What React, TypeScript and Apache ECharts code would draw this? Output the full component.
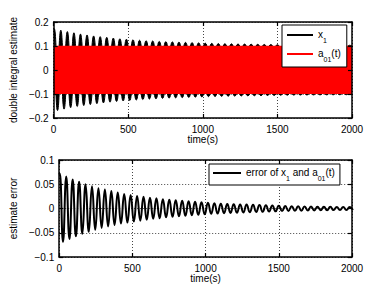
import React, { useEffect, useRef } from 'react';
import * as echarts from 'echarts';

const timeRange = [0, 2000];
const xInterval = 500;
const topYRange = [-0.2, 0.2];
const topYInterval = 0.1;
const botYRange = [-0.1, 0.1];
const botYInterval = 0.05;

// error of x1 and a01(t): value at t=0, then alternating peaks / troughs
const errorStart = 0.07;
const firstPeakTime = 4;
const halfPeriod = 22;
const errorPeaks = [
  0.072, 0.066, 0.06, 0.055, 0.05, 0.046, 0.042, 0.039, 0.036, 0.033, 0.03, 0.028,
  0.026, 0.024, 0.022, 0.021, 0.019, 0.018, 0.017, 0.016, 0.015, 0.014, 0.013, 0.012,
  0.011, 0.01, 0.0095, 0.009, 0.0085, 0.008, 0.0075, 0.007, 0.0065, 0.006, 0.0055, 0.005,
  0.0048, 0.0045, 0.0042, 0.004, 0.0038, 0.0036, 0.0034, 0.0032, 0.003, 0.003,
];
const errorTroughs = [
  -0.069, -0.063, -0.057, -0.052, -0.048, -0.044, -0.04, -0.037, -0.034, -0.031, -0.029, -0.027,
  -0.025, -0.023, -0.021, -0.02, -0.018, -0.017, -0.016, -0.015, -0.014, -0.013, -0.012, -0.011,
  -0.0105, -0.0098, -0.0092, -0.0088, -0.0082, -0.0078, -0.0072, -0.0068, -0.0062, -0.0058, -0.0052, -0.0049,
  -0.0046, -0.0044, -0.0041, -0.0039, -0.0037, -0.0035, -0.0033, -0.0031, -0.003, -0.003,
];
// a01(t): dense oscillation filling a band between these bounds
const a01Bounds = [-0.1, 0.1];

const FONT = 'Liberation Sans, Arial, Helvetica, sans-serif';

const fmtY = (v: number) => {
  if (Math.abs(v) < 1e-9) return '0';
  const s = String(parseFloat(Math.abs(v).toFixed(3)));
  return (v < 0 ? '\u2212' : '') + s;
};

export default function App() {
  const ref = useRef<HTMLDivElement>(null);
  useEffect(() => {
    if (!ref.current) return;
    const chart = echarts.init(ref.current, undefined, { renderer: 'svg' });

    const errPts: number[][] = [[0, errorStart]];
    errorPeaks.forEach((p, k) => {
      errPts.push([firstPeakTime + 2 * k * halfPeriod, p]);
      errPts.push([firstPeakTime + (2 * k + 1) * halfPeriod, errorTroughs[k]]);
    });
    // x1 = a01 + error: its envelope is the error shifted by the a01 bounds
    const x1Upper = errPts.map(([t, v]) => [t, v + a01Bounds[1]]);
    const x1Lower = errPts.map(([t, v]) => [t, v + a01Bounds[0]]);
    const a01Top = timeRange.map((t) => [t, a01Bounds[1]]);

    const grids = [
      { left: 50, top: 22, width: 302, height: 96 },
      { left: 50, top: 160, width: 302, height: 97 },
    ];
    const yRanges = [topYRange, botYRange];
    const yIntervals = [topYInterval, botYInterval];
    const yNames = ['double integral estimate', 'estimate error'];
    const yGaps = [30, 35];
    const xGaps = [16, 15];

    const xAxis: any[] = [];
    const yAxis: any[] = [];
    const lineCol = '#000';
    grids.forEach((_, i) => {
      const xb = { gridIndex: i, type: 'value', min: timeRange[0], max: timeRange[1], interval: xInterval };
      xAxis.push({
        ...xb, position: 'bottom', z: 10,
        axisLine: { show: true, onZero: false, lineStyle: { color: lineCol, width: 1.5 } },
        axisTick: { show: true, inside: true, length: 4, lineStyle: { color: lineCol, width: 1.2 } },
        axisLabel: { show: true, margin: 6, color: '#000', fontSize: 10, fontFamily: FONT, formatter: (v: number) => String(v) },
        splitLine: { show: false },
        name: 'time(s)', nameLocation: 'middle', nameGap: xGaps[i],
        nameTextStyle: { color: '#000', fontSize: 10, fontFamily: FONT },
      });
      xAxis.push({
        ...xb, position: 'top', z: 10,
        axisLine: { show: true, onZero: false, lineStyle: { color: lineCol, width: 1.5 } },
        axisTick: { show: true, inside: true, length: 4, lineStyle: { color: lineCol, width: 1.2 } },
        axisLabel: { show: false }, splitLine: { show: false },
      });
      xAxis.push({
        ...xb, position: 'bottom', z: 0,
        axisLine: { show: false }, axisTick: { show: false }, axisLabel: { show: false },
        splitLine: { show: true, lineStyle: { color: '#444', width: 1, type: [1, 2] } },
      });
      const yb = { gridIndex: i, type: 'value', min: yRanges[i][0], max: yRanges[i][1], interval: yIntervals[i] };
      yAxis.push({
        ...yb, position: 'left', z: 10,
        axisLine: { show: true, onZero: false, lineStyle: { color: lineCol, width: 1.5 } },
        axisTick: { show: true, inside: true, length: 4, lineStyle: { color: lineCol, width: 1.2 } },
        axisLabel: { show: true, margin: 5, color: '#000', fontSize: 10, fontFamily: FONT, formatter: fmtY },
        splitLine: { show: false },
        name: yNames[i], nameLocation: 'middle', nameGap: yGaps[i],
        nameTextStyle: { color: '#000', fontSize: 10, fontFamily: FONT },
      });
      yAxis.push({
        ...yb, position: 'right', z: 10,
        axisLine: { show: true, onZero: false, lineStyle: { color: lineCol, width: 1.5 } },
        axisTick: { show: true, inside: true, length: 4, lineStyle: { color: lineCol, width: 1.2 } },
        axisLabel: { show: false }, splitLine: { show: false },
      });
      yAxis.push({
        ...yb, position: 'left', z: 0,
        axisLine: { show: false }, axisTick: { show: false }, axisLabel: { show: false },
        splitLine: { show: true, lineStyle: { color: '#444', width: 1, type: [1, 2] } },
      });
    });

    const rich = {
      n: { fontSize: 10, fontFamily: FONT, color: '#000', verticalAlign: 'top', lineHeight: 12 },
      s: { fontSize: 7, fontFamily: FONT, color: '#000', verticalAlign: 'top', lineHeight: 8, padding: [8, 0, 0, 0] },
    };
    const legendCommon = {
      orient: 'vertical', icon: 'rect', itemHeight: 2, selectedMode: false,
      borderColor: '#000', borderWidth: 1, backgroundColor: '#fff', borderRadius: 0, z: 20,
      textStyle: { fontSize: 10, fontFamily: FONT, color: '#000', rich },
    };

    const option: any = {
      animation: false,
      backgroundColor: '#fff',
      grid: grids,
      xAxis, yAxis,
      legend: [
        {
          ...legendCommon, left: 282, top: 25, itemGap: 4, itemWidth: 26,
          padding: [4, 6, 4, 5],
          data: ['x1', 'a01'],
          formatter: (name: string) => (name === 'x1' ? '{n|x}{s|1}' : '{n|a}{s|01}{n|(t)}'),
        },
        {
          ...legendCommon, left: 209, top: 164, itemGap: 4, itemWidth: 28,
          padding: [3, 5, 3, 4],
          data: ['err'],
          formatter: () => '{n|error of x}{s|1}{n| and a}{s|01}{n|(t)}',
        },
      ],
      series: [
        {
          type: 'line', name: 'x1', xAxisIndex: 0, yAxisIndex: 0, data: x1Upper, z: 2,
          smooth: true, symbol: 'none', silent: true,
          lineStyle: { color: '#000', width: 1 }, itemStyle: { color: '#000' },
          areaStyle: { color: '#000', opacity: 1, origin: a01Bounds[1] },
        },
        {
          type: 'line', name: 'x1low', xAxisIndex: 0, yAxisIndex: 0, data: x1Lower, z: 2,
          smooth: true, symbol: 'none', silent: true,
          lineStyle: { color: '#000', width: 1 }, itemStyle: { color: '#000' },
          areaStyle: { color: '#000', opacity: 1, origin: a01Bounds[0] },
        },
        {
          type: 'line', name: 'a01', xAxisIndex: 0, yAxisIndex: 0, data: a01Top, z: 5,
          symbol: 'none', silent: true,
          lineStyle: { color: '#f00', width: 0.5 }, itemStyle: { color: '#f00' },
          areaStyle: { color: '#f00', opacity: 1, origin: a01Bounds[0] },
        },
        {
          type: 'line', name: 'err', xAxisIndex: 3, yAxisIndex: 3, data: errPts,
          smooth: true, symbol: 'none', silent: true,
          lineStyle: { color: '#000', width: 2 }, itemStyle: { color: '#000' },
        },
      ],
    };
    chart.setOption(option);
    return () => chart.dispose();
  }, []);
  return (
    <div
      ref={ref}
      style={{ position: 'fixed', left: 0, top: 0, width: 388, height: 292, background: '#fff' }}
    />
  );
}
